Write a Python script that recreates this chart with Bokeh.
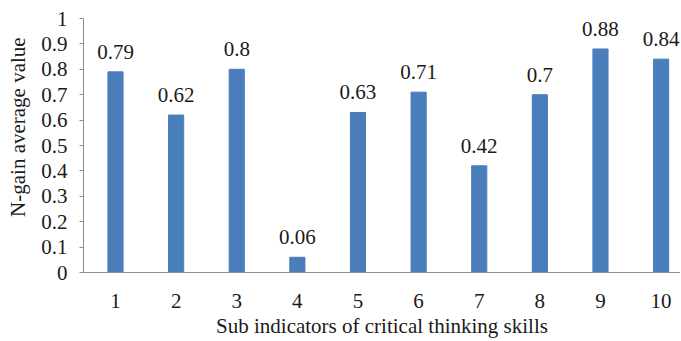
from bokeh.plotting import figure
from bokeh.models import FixedTicker, ColumnDataSource, Range1d
from bokeh.core.properties import value
from bokeh.embed import file_html
from bokeh.resources import INLINE

indicators = [1, 2, 3, 4, 5, 6, 7, 8, 9, 10]
ngain = [0.79, 0.62, 0.8, 0.06, 0.63, 0.71, 0.42, 0.7, 0.88, 0.84]
y_ticks = [0, 0.1, 0.2, 0.3, 0.4, 0.5, 0.6, 0.7, 0.8, 0.9, 1.0]
y_tick_labels = ["0", "0.1", "0.2", "0.3", "0.4", "0.5", "0.6", "0.7", "0.8", "0.9", "1"]
x_title = "Sub indicators of critical thinking skills"
y_title = "N-gain average value"

FONT = "Liberation Serif"
FS = "21px"
AXIS_COLOR = "#8c8c8c"
TEXT_COLOR = "#1a1a1a"

src = ColumnDataSource(dict(x=indicators, y=ngain, label=[str(v) for v in ngain]))

p = figure(width=680, height=340, output_backend="svg", toolbar_location=None,
           x_range=Range1d(0.472, 10.32), y_range=Range1d(0, 1),
           min_border_left=83, min_border_right=0, min_border_top=18, min_border_bottom=0)
p.outline_line_color = None
p.xgrid.visible = False
p.ygrid.visible = False

p.vbar(x="x", top="y", width=0.25, source=src, fill_color="#4a7ebb", line_color="#4a7ebb")
p.text(x="x", y="y", text="label", source=src, text_align="center", text_baseline="bottom",
       y_offset=-13, text_font=value(FONT), text_font_size=FS, text_color=TEXT_COLOR)

p.xaxis.ticker = FixedTicker(ticks=indicators)
p.xaxis.major_tick_line_color = None
p.xaxis.minor_tick_line_color = None
p.xaxis.major_label_standoff = 15
p.xaxis.axis_label = x_title
p.xaxis.axis_label_standoff = 3

p.yaxis.ticker = FixedTicker(ticks=y_ticks)
p.yaxis.major_label_overrides = {t: l for t, l in zip(y_ticks, y_tick_labels)}
p.yaxis.major_tick_out = 4
p.yaxis.major_tick_in = 0
p.yaxis.major_tick_line_color = AXIS_COLOR
p.yaxis.minor_tick_line_color = None
p.yaxis.major_label_standoff = 12
p.yaxis.axis_label = "\u00a0" * 7 + y_title
p.yaxis.axis_label_standoff = 8

for ax in (p.xaxis, p.yaxis):
    ax.axis_line_color = AXIS_COLOR
    ax.major_label_text_font = FONT
    ax.major_label_text_font_size = FS
    ax.major_label_text_color = TEXT_COLOR
    ax.axis_label_text_font = FONT
    ax.axis_label_text_font_size = FS
    ax.axis_label_text_font_style = "normal"
    ax.axis_label_text_color = TEXT_COLOR

open("out.html", "w").write(file_html(p, INLINE))
